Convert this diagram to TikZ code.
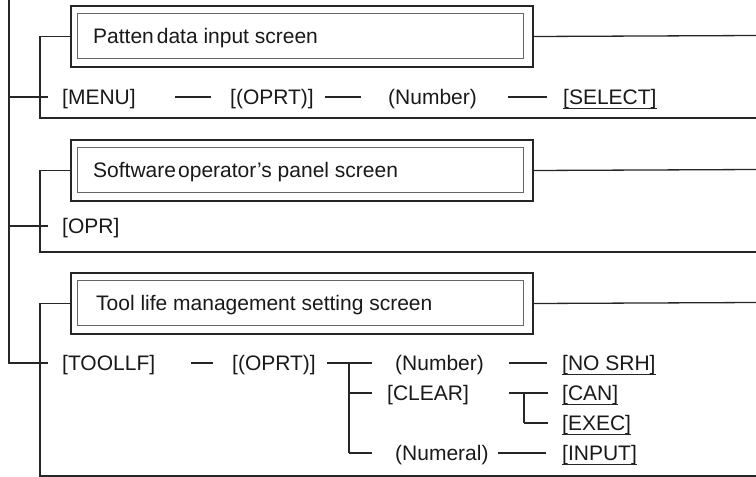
\documentclass[tikz,border=0pt]{standalone}
\usepackage{fontspec}
\setmainfont{Liberation Sans}
\begin{document}
\begin{tikzpicture}[x=1pt,y=-1pt,
  ln/.style={line width=1.3pt, draw=black!85},
  outerbox/.style={draw=black!85, line width=2pt, minimum width=462pt, minimum height=61pt, anchor=north west, inner sep=0pt},
  innerbox/.style={draw=black!60, line width=1.2pt, minimum width=446pt, minimum height=45pt, anchor=north west, inner sep=0pt},
  lbl/.style={anchor=west, inner sep=0pt, text height=15pt, text depth=0pt, font=\fontsize{21}{25}\selectfont, text=black!90},
  ul/.style={line width=1pt, draw=black!85}
]
\useasboundingbox (0,0) rectangle (756,477);

% ---------- boxes ----------
\node[outerbox] (b1) at (70,5) {};
\node[innerbox] (i1) at (77,13) {};
\node[lbl] (t1) at (93,35.5) {Patten\hspace{0.14em}data input screen};

\node[outerbox] (b2) at (70,139) {};
\node[innerbox] (i2) at (77,147) {};
\node[lbl] (t2) at (93,169.5) {Software\hspace{0.1em}operator’s panel screen};

\node[outerbox] (b3) at (70,272) {};
\node[innerbox] (i3) at (77,280) {};
\node[lbl] (t3) at (96,302.5) {Tool life management setting screen};

% ---------- coordinates ----------
\coordinate (top) at (9,0);
\coordinate (m1) at (9,97);   \coordinate (mb1) at (48,97);
\coordinate (m2) at (9,226);  \coordinate (mb2) at (48,226);
\coordinate (mb3) at (48,363);
\coordinate (s1) at (40,118); \coordinate (e1) at (756,118);
\coordinate (s2) at (40,252); \coordinate (e2) at (756,252);
\coordinate (s3) at (40,476); \coordinate (e3) at (756,476);
\coordinate (r1) at (756,35.5);
\coordinate (r2) at (756,169.5);
\coordinate (r3) at (756,302.5);

% ---------- main structure ----------
\draw[ln] (top) |- (mb3);
\draw[ln] (m1) -- (mb1);
\draw[ln] (m2) -- (mb2);
\draw[ln] (b1.west) -| (s1) -- (e1);
\draw[ln] (b2.west) -| (s2) -- (e2);
\draw[ln] (b3.west) -| (s3) -- (e3);
\draw[ln] (b1.east) -- (r1);
\draw[ln] (b2.east) -- (r2);
\draw[ln] (b3.east) -- (r3);

% ---------- MENU row ----------
\node[lbl] (menu) at (62,97) {[MENU]};
\node[lbl] (oprt1) at (230,97) {[(OPRT)]};
\node[lbl] (num1) at (388,97) {(Number)};
\node[lbl] (sel) at (563,97) {[SELECT]};
\draw[ln, shorten <=39.5pt, shorten >=19pt] (menu.east) -- (oprt1.west);
\draw[ln, shorten <=11pt, shorten >=27pt] (oprt1.east) -- (num1.west);
\draw[ln, shorten <=31pt, shorten >=16pt] (num1.east) -- (sel.west);
\draw[ul] ([yshift=-11pt]sel.west) -- ([yshift=-11pt]sel.east);

% ---------- OPR row ----------
\node[lbl] (opr) at (62,226) {[OPR]};

% ---------- TOOLLF row ----------
\node[lbl] (toollf) at (62,363) {[TOOLLF]};
\node[lbl] (oprt2) at (232,363) {[(OPRT)]};
\node[lbl] (num2) at (395,363) {(Number)};
\node[lbl] (nosrh) at (562,363) {[NO SRH]};
\node[lbl] (clear) at (387,393) {[CLEAR]};
\node[lbl] (can) at (562,393) {[CAN]};
\node[lbl] (exec) at (562,423) {[EXEC]};
\node[lbl] (numeral) at (395,453) {(Numeral)};
\node[lbl] (input) at (562,453) {[INPUT]};

\coordinate (br1) at (349,363);
\coordinate (br2) at (349,393);
\coordinate (br3) at (349,453);
\coordinate (sb1) at (524,393);
\coordinate (sb2) at (524,423);

\draw[ln, shorten <=35.6pt, shorten >=19pt] (toollf.east) -- (oprt2.west);
\draw[ln, shorten <=11pt, shorten >=23pt] (oprt2.east) -- (num2.west);
\draw[ln] (br1) -- (br3);
\draw[ln, shorten >=15pt] (br2) -- (clear.west);
\draw[ln, shorten >=23pt] (br3) -- (numeral.west);
\draw[ln, shorten <=25.3pt, shorten >=15pt] (num2.east) -- (nosrh.west);
\draw[ln, shorten <=40.3pt, shorten >=14pt] (clear.east) -- (can.west);
\draw[ln] (sb1) -- (sb2);
\draw[ln, shorten >=14pt] (sb2) -- (exec.west);
\draw[ln, shorten <=9.7pt, shorten >=16pt] (numeral.east) -- (input.west);

\foreach \n in {nosrh,can,exec,input}
  \draw[ul] ([yshift=-11pt]\n.west) -- ([yshift=-11pt]\n.east);
\end{tikzpicture}
\end{document}
